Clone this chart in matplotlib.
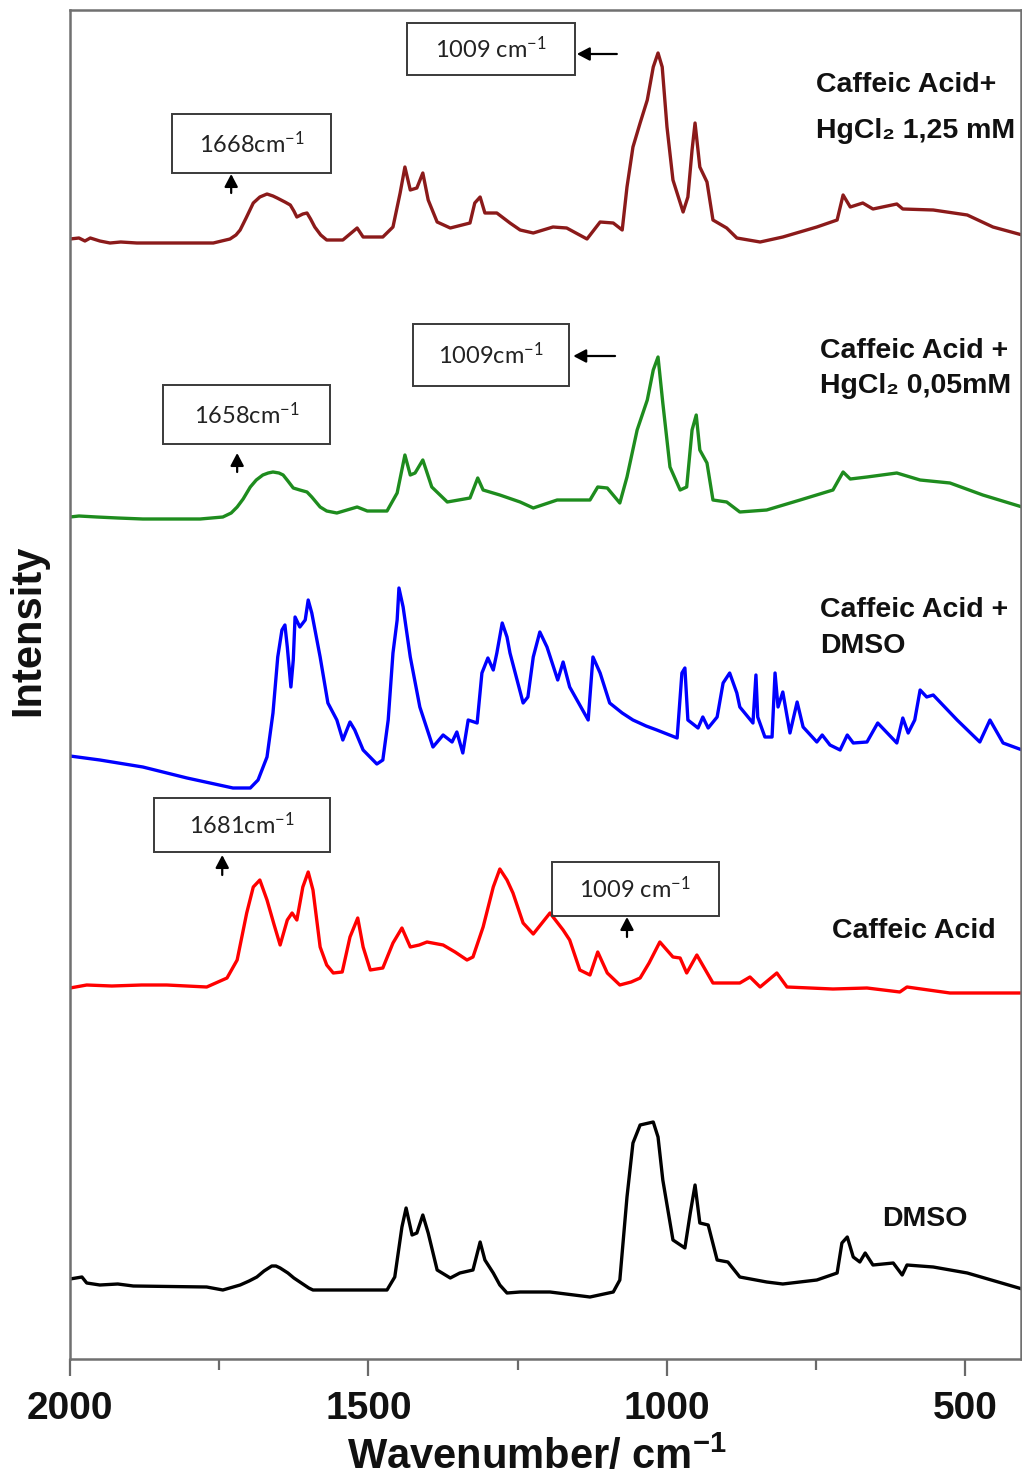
import numpy as np
import matplotlib
matplotlib.use("Agg")
import matplotlib.pyplot as plt
from matplotlib.patches import Rectangle

plt.rcParams["font.family"] = ["Liberation Sans", "DejaVu Sans"]
plt.rcParams["mathtext.default"] = "regular"

# ---- spectra: wavenumber (cm-1) and intensity above each trace's baseline ----
hg125_wn = [2000, 1985, 1975, 1966, 1950, 1933, 1915, 1888, 1760, 1732, 1722, 1715,
            1705, 1693, 1682, 1670, 1660, 1653, 1640, 1631, 1625, 1620, 1610, 1603,
            1597, 1590, 1580, 1570, 1543, 1519, 1509, 1476, 1459, 1447, 1439, 1430,
            1419, 1409, 1400, 1385, 1363, 1330, 1322, 1313, 1305, 1285, 1263, 1246,
            1224, 1191, 1168, 1134, 1112, 1090, 1075, 1067, 1057, 1045, 1033, 1023,
            1015, 1008, 1000, 990, 973, 965, 958, 953, 945, 933, 923, 900, 883, 844,
            806, 749, 715, 705, 693, 672, 655, 615, 605, 554, 497, 454, 405]
hg125_int = [4, 5, 2, 5, 2, 0, 1, 0, 0, 4, 8, 13,
             25, 40, 46, 49, 47, 45, 41, 38, 32, 26, 29, 30,
             24, 16, 8, 3, 3, 15, 6, 6, 16, 50, 76, 53,
             55, 70, 43, 21, 15, 20, 40, 46, 30, 30, 20, 13,
             10, 16, 15, 4, 21, 20, 13, 56, 96, 120, 143, 176,
             190, 176, 116, 63, 31, 46, 93, 120, 76, 61, 23, 15, 5, 1,
             6, 16, 23, 48, 36, 40, 34, 39, 34, 33, 28, 16, 8]

hg005_wn = [2000, 1985, 1955, 1920, 1878, 1782, 1744, 1730, 1720, 1710, 1698, 1688,
            1677, 1668, 1660, 1650, 1643, 1635, 1626, 1615, 1603, 1595, 1581, 1570,
            1553, 1519, 1502, 1469, 1452, 1439, 1430, 1422, 1409, 1394, 1368, 1330,
            1317, 1308, 1280, 1246, 1224, 1184, 1129, 1116, 1100, 1079, 1067, 1050,
            1033, 1023, 1015, 1007, 995, 978, 967, 958, 951, 945, 933, 923, 900,
            878, 833, 777, 722, 705, 693, 665, 615, 576, 526, 471, 405]
hg005_int = [2, 3, 2, 1, 0, 0, 2, 6, 12, 20, 32, 39,
             44, 46, 47, 46, 44, 38, 31, 29, 27, 22, 12, 8,
             6, 12, 8, 8, 26, 64, 44, 46, 59, 32, 17, 21,
             41, 29, 24, 17, 11, 19, 19, 32, 31, 16, 42, 89,
             119, 149, 162, 116, 52, 29, 32, 89, 104, 69, 56, 19, 17,
             7, 9, 19, 29, 47, 40, 42, 46, 39, 36, 24, 12]

dmso_ca_wn = [2000, 1950, 1878, 1804, 1727, 1698, 1685, 1670, 1660, 1652, 1645, 1640,
              1636, 1630, 1626, 1623, 1615, 1606, 1601, 1595, 1581, 1568, 1553, 1543,
              1531, 1523, 1509, 1486, 1476, 1467, 1459, 1452, 1449, 1442, 1430, 1414,
              1392, 1375, 1360, 1352, 1342, 1333, 1318, 1310, 1300, 1291, 1285, 1276,
              1268, 1263, 1241, 1233, 1224, 1213, 1201, 1183, 1174, 1163, 1132, 1124,
              1112, 1096, 1075, 1057, 1035, 1017, 1000, 983, 975, 970, 965, 948, 940,
              931, 916, 906, 895, 883, 878, 856, 851, 848, 836, 824, 819, 814, 806,
              794, 782, 772, 749, 740, 727, 710, 698, 688, 665, 647, 615, 605, 596,
              585, 576, 565, 554, 514, 476, 459, 437, 405]
dmso_ca_int = [32, 28, 21, 10, 0, 0, 8, 31, 75, 131, 158, 163,
               141, 101, 128, 171, 161, 168, 188, 175, 131, 85, 68, 48,
               66, 58, 38, 24, 28, 68, 135, 168, 200, 181, 131, 81,
               41, 53, 46, 56, 35, 68, 65, 115, 130, 118, 135, 165,
               151, 135, 85, 91, 131, 156, 141, 108, 126, 101, 68, 131,
               115, 85, 75, 68, 62, 58, 54, 50, 115, 120, 68, 60, 71,
               60, 71, 105, 115, 95, 81, 65, 113, 71, 51, 51, 115, 81, 96,
               55, 86, 61, 46, 53, 43, 38, 53, 45, 46, 65, 45, 70, 55,
               68, 98, 91, 93, 68, 46, 68, 45, 38]

ca_wn = [2000, 1972, 1930, 1880, 1838, 1771, 1737, 1720, 1704, 1693, 1682, 1670,
         1658, 1648, 1636, 1628, 1620, 1610, 1601, 1593, 1581, 1570, 1559, 1544,
         1531, 1518, 1509, 1497, 1476, 1459, 1444, 1430, 1415, 1402, 1375, 1355,
         1335, 1325, 1308, 1291, 1280, 1268, 1258, 1241, 1224, 1196, 1174, 1163,
         1146, 1129, 1116, 1100, 1079, 1060, 1045, 1030, 1012, 990, 978, 967, 950,
         923, 878, 861, 844, 816, 799, 722, 665, 610, 598, 526, 405]
ca_int = [5, 8, 7, 8, 8, 6, 15, 33, 80, 106, 113, 93,
          68, 48, 73, 80, 73, 106, 121, 103, 46, 28, 20, 21,
          56, 75, 46, 23, 25, 50, 65, 46, 48, 51, 48, 41,
          33, 36, 66, 106, 124, 113, 100, 70, 59, 80, 63, 53,
          23, 18, 41, 20, 8, 11, 15, 30, 51, 36, 35, 20, 38,
          10, 10, 16, 6, 20, 6, 4, 5, 1, 6, 0, 0]

dmso_wn = [2000, 1980, 1972, 1950, 1920, 1894, 1771, 1744, 1715, 1700, 1687, 1675,
           1662, 1655, 1648, 1635, 1625, 1615, 1600, 1593, 1469, 1456, 1444, 1437,
           1427, 1419, 1409, 1400, 1385, 1363, 1347, 1325, 1313, 1305, 1291, 1280,
           1268, 1246, 1196, 1129, 1090, 1079, 1067, 1057, 1045, 1023, 1015, 1007,
           990, 970, 961, 953, 945, 931, 916, 898, 878, 833, 806, 749, 715, 707,
           698, 688, 677, 668, 655, 621, 606, 598, 554, 497, 405]
dmso_int = [18, 20, 14, 12, 13, 11, 10, 7, 12, 16, 20, 26,
            31, 31, 29, 24, 19, 15, 9, 7, 7, 20, 70, 89,
            62, 64, 82, 64, 27, 19, 24, 27, 55, 37, 24, 12,
            4, 5, 5, 0, 5, 17, 100, 154, 172, 175, 160, 117,
            57, 49, 84, 112, 74, 72, 37, 35, 20, 15, 13, 17, 24, 54,
            60, 40, 35, 44, 32, 34, 22, 32, 30, 24, 8]

spectra = [
    (hg125_wn, hg125_int, "#8b1a1a"),
    (hg005_wn, hg005_int, "#1e8c1e"),
    (dmso_ca_wn, dmso_ca_int, "#0000ff"),
    (ca_wn, ca_int, "#ff0000"),
    (dmso_wn, dmso_int, "#000000"),
]
offsets = [1116, 840, 571, 366, 62]

sample_labels = [
    ("Caffeic Acid+", 750, 1267),
    ("HgCl\u2082 1,25 mM", 750, 1221),
    ("Caffeic Acid +", 744, 1001),
    ("HgCl\u2082 0,05mM", 744, 966),
    ("Caffeic Acid +", 744, 742),
    ("DMSO", 744, 706),
    ("Caffeic Acid", 723, 421),
    ("DMSO", 640, 133),
]

# peak call-outs: text, box (left, right, bottom, top), arrow (tail, head)
callouts = [
    ("1009 cm$^{-1}$", (1436, 1154, 1284, 1336), ((1084, 1305), (1151, 1305))),
    ("1668cm$^{-1}$", (1829, 1563, 1186, 1245), ((1730, 1166), (1730, 1185))),
    ("1009cm$^{-1}$", (1426, 1164, 973, 1035), ((1087, 1003), (1157, 1003))),
    ("1658cm$^{-1}$", (1844, 1565, 915, 974), ((1720, 887), (1720, 906))),
    ("1681cm$^{-1}$", (1859, 1565, 507, 561), ((1745, 484), (1745, 504))),
    ("1009 cm$^{-1}$", (1193, 913, 443, 497), ((1067, 422), (1067, 442))),
]

major_ticks = [2000, 1500, 1000, 500]
minor_ticks = [1750, 1250, 750]

fig = plt.figure(figsize=(10.22, 14.77), dpi=100)
ax = fig.add_axes([70 / 1022, 1 - 1359 / 1477, 951 / 1022, 1349 / 1477])

for (wn, inten, col), off in zip(spectra, offsets):
    ax.plot(wn, np.asarray(inten) + off, color=col, lw=2.4,
            solid_joinstyle="round", solid_capstyle="round")

ax.set_xlim(2000, 407)
ax.set_ylim(0, 1349)

for txt, x, y in sample_labels:
    ax.text(x, y, txt, fontsize=20.5, fontweight="bold", color="#111111",
            ha="left", va="baseline")

for txt, (x0, x1, y0, y1), (tail, head) in callouts:
    ax.add_patch(Rectangle((x0, y0), x1 - x0, y1 - y0, fill=False,
                           edgecolor="#3a3a3a", lw=1.4, zorder=3))
    ax.text((x0 + x1) / 2, (y0 + y1) / 2, txt, family=["Lato", "DejaVu Sans"],
            fontsize=17, color="#222222", ha="center", va="center", zorder=4)
    ax.annotate("", xy=head, xytext=tail,
                arrowprops=dict(arrowstyle="-|>,head_length=0.38,head_width=0.2",
                                color="black", lw=1.6, mutation_scale=20,
                                shrinkA=0, shrinkB=0))

ax.set_xticks(major_ticks)
ax.set_xticks(minor_ticks, minor=True)
ax.set_yticks([])
ax.tick_params(axis="x", which="major", direction="out", length=12, width=1.6,
               color="#6a6a6a", pad=11, labelsize=28, labelcolor="#111111")
ax.tick_params(axis="x", which="minor", direction="out", length=8, width=1.6,
               color="#6a6a6a")
for lab in ax.get_xticklabels():
    lab.set_fontweight("bold")

for sp in ax.spines.values():
    sp.set_color("#707070")
    sp.set_linewidth(1.8)

fig.text(537 / 1022, 1 - 1457 / 1477, "Wavenumber/ cm$^{-1}$", fontsize=30,
         fontweight="bold", color="#111111", ha="center", va="center")
fig.text(28 / 1022, 1 - 630 / 1477, "Intensity", fontsize=30, fontweight="bold",
         color="#111111", ha="center", va="center", rotation=90)

fig.savefig("out.png", dpi=100)
